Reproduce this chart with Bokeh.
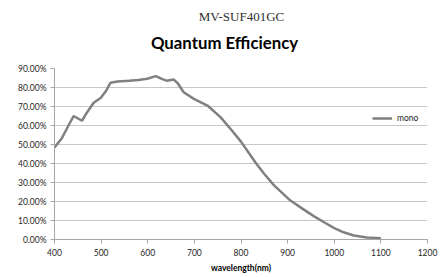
from bokeh.plotting import figure
from bokeh.layouts import column
from bokeh.models import Label, Legend, LegendItem, NumeralTickFormatter, FixedTicker, Range1d
from bokeh.embed import file_html
from bokeh.resources import INLINE

wavelength = [400, 415, 430, 441, 459, 470, 484, 499, 510, 520, 535, 560, 580, 599, 617,
              630, 640, 656, 665, 677, 699, 728, 756, 780, 800, 831, 850, 871, 906, 930,
              956, 980, 1000, 1020, 1042, 1070, 1100]
qe_mono = [0.485, 0.53, 0.60, 0.65, 0.625, 0.67, 0.72, 0.745, 0.78, 0.825, 0.832, 0.836, 0.84,
           0.846, 0.86, 0.845, 0.836, 0.842, 0.82, 0.775, 0.74, 0.705, 0.644, 0.575, 0.515,
           0.405, 0.345, 0.285, 0.205, 0.165, 0.123, 0.088, 0.06, 0.038, 0.021, 0.011, 0.007]
x_ticks = [400, 500, 600, 700, 800, 900, 1000, 1100, 1200]
y_ticks = [0.0, 0.1, 0.2, 0.3, 0.4, 0.5, 0.6, 0.7, 0.8, 0.9]
series_name = "mono"
title_text = "Quantum Efficiency"
model_text = "MV-SUF401GC"
x_label = "wavelength(nm)"

W, H = 446, 277
HEAD = 62
font = "Lato"

# header with the two titles (its frame is aligned with the chart's frame, left = 54)
head = figure(width=W, height=HEAD, output_backend="svg", toolbar_location=None,
              x_axis_type=None, y_axis_type=None, x_range=Range1d(0, 1), y_range=Range1d(0, 1),
              min_border=0, min_border_left=0, min_border_right=0, min_border_top=0, min_border_bottom=0)
head.outline_line_color = None
head.grid.visible = False
head.add_layout(Label(x=187, y=HEAD - 16, x_units="screen", y_units="screen", text=model_text,
                      text_font="Liberation Serif", text_font_size="13px", text_color="#303030",
                      text_align="center", text_baseline="middle"))
head.add_layout(Label(x=170, y=HEAD - 42, x_units="screen", y_units="screen", text=title_text,
                      text_font=font, text_font_style="bold", text_font_size="16.8px",
                      text_color="#000000", text_align="center", text_baseline="middle"))

p = figure(width=W, height=H - HEAD, output_backend="svg", toolbar_location=None,
           x_range=Range1d(400, 1200), y_range=Range1d(0, 0.9),
           min_border_left=54, min_border_right=19, min_border_top=6, min_border_bottom=38)
p.outline_line_color = None
p.background_fill_color = "white"
p.border_fill_color = "white"

r = p.line(wavelength, qe_mono, line_color="#808080", line_width=2.5)

p.xaxis.ticker = FixedTicker(ticks=x_ticks)
p.yaxis.ticker = FixedTicker(ticks=y_ticks)
p.yaxis.formatter = NumeralTickFormatter(format="0.00%")
for ax in (p.xaxis, p.yaxis):
    ax.axis_line_color = "#a6a6a6"
    ax.major_tick_line_color = "#a6a6a6"
    ax.major_tick_out = 4
    ax.major_tick_in = 0
    ax.minor_tick_line_color = None
    ax.major_label_text_font = font
    ax.major_label_text_font_size = "8.5px"
    ax.major_label_text_color = "#262626"
p.yaxis.major_label_standoff = 4
p.xaxis.major_label_standoff = 5
p.xaxis.axis_label = x_label
p.xaxis.axis_label_text_font = font
p.xaxis.axis_label_text_font_style = "bold"
p.xaxis.axis_label_text_font_size = "8.5px"
p.xaxis.axis_label_standoff = 4
p.xaxis.axis_label_text_color = "#000000"

p.xgrid.grid_line_color = None
p.ygrid.grid_line_color = "#c8c8c8"
p.ygrid.grid_line_width = 1

legend = Legend(items=[LegendItem(label=series_name, renderers=[r])],
                location=(318, 116), padding=0, margin=0, spacing=0,
                label_height=10, glyph_height=10, glyph_width=20,
                label_text_font=font, label_text_font_size="8.5px", label_text_color="#262626",
                border_line_color=None, background_fill_alpha=0)
p.add_layout(legend, "center")

layout = column(head, p, spacing=0)
open("out.html", "w").write(file_html(layout, INLINE))
